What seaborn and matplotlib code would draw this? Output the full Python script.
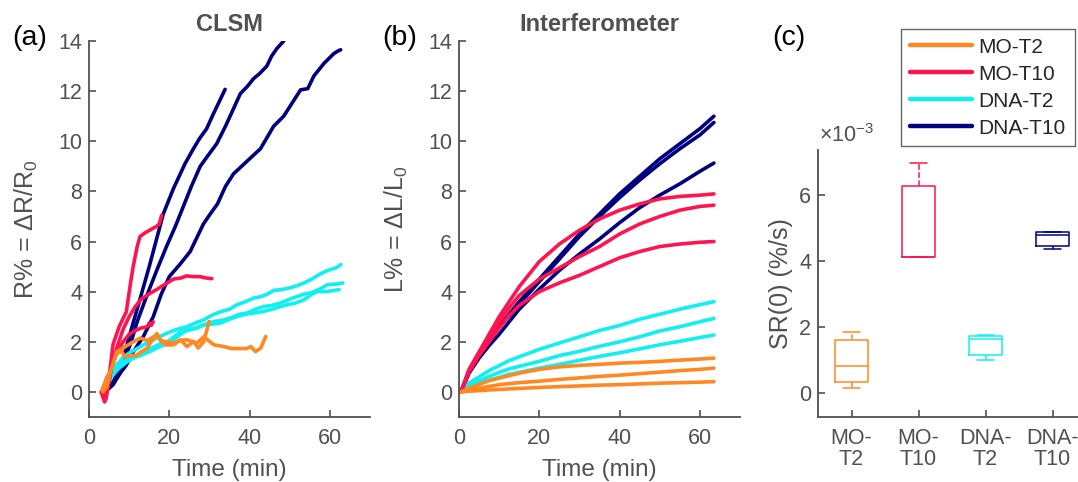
import matplotlib
matplotlib.use('Agg')
import matplotlib.pyplot as plt
from matplotlib.lines import Line2D
import seaborn as sns
import pandas as pd

# groups / colours
groups = ['MO-T2', 'MO-T10', 'DNA-T2', 'DNA-T10']
colors = {'MO-T2': '#FF8822', 'MO-T10': '#FF1450',
          'DNA-T2': '#10F0F0', 'DNA-T10': '#00007F'}
draw_order = ['DNA-T10', 'DNA-T2', 'MO-T10', 'MO-T2']

# ---- (a) CLSM: time (min) vs R% ----
clsm_mo_t2_a_t = [3.2, 4.5, 5.7, 6.9, 8.5, 10.5, 12.8, 14.5, 16.9, 17.8, 19.0, 21.0, 22.5,
                  24.4, 26.9, 28.6, 31.1, 33.6, 35.5, 37.7, 39.3, 40.3, 41.5, 42.8, 44.0]
clsm_mo_t2_a_r = [0.07, 0.6, 0.95, 1.6, 1.75, 1.95, 2.15, 2.05, 2.28, 2.07, 2.0, 1.95, 2.05,
                  2.08, 1.95, 2.2, 1.88, 1.81, 1.73, 1.73, 1.73, 1.81, 1.61, 1.75, 2.21]
clsm_mo_t2_b_t = [3.5, 4.4, 5.5, 6.5, 7.8, 9.0, 10.5, 11.9, 13.0, 14.4, 15.5, 16.9, 18.0,
                  19.4, 21.1, 22.8, 24.4, 26.1, 27.2, 28.6, 29.9]
clsm_mo_t2_b_r = [0.0, 0.2, 0.9, 1.4, 1.67, 1.4, 1.45, 1.47, 1.6, 1.73, 2.0, 2.33, 2.0,
                  1.87, 1.88, 2.08, 1.81, 2.01, 1.75, 2.01, 2.81]

clsm_mo_t10_a_t = [3.0, 3.9, 5.0, 6.0, 7.5, 9.3, 10.3, 11.0, 12.0, 12.7, 14.0, 15.6, 16.8, 17.5, 18.1]
clsm_mo_t10_a_r = [0.0, -0.4, 0.6, 1.9, 2.6, 3.2, 4.3, 5.0, 5.8, 6.2, 6.35, 6.5, 6.6, 6.7, 7.05]
clsm_mo_t10_b_t = [3.2, 4.0, 5.5, 7.0, 8.5, 10.0, 11.5, 13.0, 15.2, 17.0, 19.0, 21.0, 23.0,
                   24.3, 26.0, 27.7, 29.0, 30.6]
clsm_mo_t10_b_r = [0.0, -0.35, 0.9, 1.8, 2.5, 3.0, 3.4, 3.7, 3.93, 4.1, 4.3, 4.5, 4.55,
                   4.63, 4.6, 4.6, 4.55, 4.52]
clsm_mo_t10_c_t = [3.5, 4.2, 5.5, 7.0, 8.5, 10.0, 11.5, 13.0, 14.5, 15.0, 15.5, 16.0]
clsm_mo_t10_c_r = [0.0, -0.3, 0.9, 1.6, 2.0, 2.3, 2.45, 2.55, 2.6, 2.75, 2.65, 2.8]

clsm_dna_t2_a_t = [3.8, 4.4, 6.0, 8.6, 10.5, 12.75, 15.0, 17.5, 20.25, 22.0, 24.4, 26.5, 28.6,
                   30.5, 32.75, 35.0, 36.9, 39.0, 41.1, 42.8, 44.4, 46.0, 47.8, 50.0, 52.0,
                   53.6, 55.5, 57.5, 59.5, 61.5, 62.75]
clsm_dna_t2_a_r = [0.1, 0.6, 0.9, 1.4, 1.6, 1.8, 2.0, 2.2, 2.4, 2.5, 2.6, 2.75, 2.88,
                   3.05, 3.2, 3.3, 3.48, 3.6, 3.75, 3.8, 3.9, 4.05, 4.08, 4.15, 4.25,
                   4.35, 4.5, 4.7, 4.85, 4.95, 5.08]
clsm_dna_t2_b_t = [4.0, 5.0, 6.9, 9.0, 11.0, 12.75, 15.0, 17.5, 20.0, 22.75, 24.5, 26.9, 29.0,
                   31.1, 33.0, 35.25, 37.5, 39.4, 41.5, 43.6, 45.5, 47.75, 50.0, 51.9, 53.5,
                   55.25, 57.5, 59.4, 61.5, 63.2]
clsm_dna_t2_b_r = [0.0, 0.5, 1.0, 1.25, 1.4, 1.5, 1.7, 1.9, 2.05, 2.4, 2.45, 2.55, 2.7,
                   2.81, 2.85, 2.95, 3.1, 3.15, 3.3, 3.41, 3.45, 3.55, 3.7, 3.81, 3.9,
                   3.95, 4.1, 4.28, 4.3, 4.35]
clsm_dna_t2_c_t = [4.2, 5.5, 7.5, 9.5, 11.0, 12.75, 15.0, 17.5, 20.0, 22.0, 24.4, 26.5, 28.6,
                   30.5, 32.75, 35.0, 36.9, 39.0, 41.1, 43.0, 45.25, 47.5, 49.4, 51.5, 53.6,
                   55.5, 57.0, 59.0, 61.0, 62.3]
clsm_dna_t2_c_r = [0.1, 0.6, 0.95, 1.2, 1.35, 1.45, 1.6, 1.8, 1.95, 2.2, 2.48, 2.55, 2.68,
                   2.7, 2.75, 2.9, 3.01, 3.1, 3.15, 3.2, 3.28, 3.4, 3.48, 3.55, 3.68,
                   3.9, 4.01, 4.0, 4.05, 4.08]

clsm_dna_t10_a_t = [4.0, 6.0, 8.0, 10.0, 12.7, 15.0, 18.5, 21.0, 23.9, 26.0, 27.5, 29.3, 31.0, 32.5, 33.9]
clsm_dna_t10_a_r = [0.0, 0.4, 1.0, 2.2, 3.7, 5.0, 7.1, 8.1, 9.1, 9.7, 10.1, 10.5, 11.1, 11.6, 12.07]
clsm_dna_t10_b_t = [4.0, 6.0, 8.0, 10.5, 12.0, 14.3, 17.0, 19.3, 21.5, 23.5, 25.5, 27.7, 29.5,
                    31.8, 34.0, 36.0, 37.7, 39.5, 41.0, 42.5, 44.3, 45.5, 46.8, 48.5]
clsm_dna_t10_b_r = [0.0, 0.3, 0.9, 2.0, 2.8, 3.8, 4.9, 5.8, 6.6, 7.4, 8.2, 9.0, 9.4,
                    9.9, 10.6, 11.3, 11.9, 12.2, 12.5, 12.7, 13.0, 13.4, 13.7, 14.0]
clsm_dna_t10_c_t = [4.0, 6.0, 8.0, 9.3, 11.0, 13.5, 16.0, 18.0, 20.0, 22.7, 25.2, 27.0, 28.5,
                    30.2, 32.0, 34.0, 36.0, 38.0, 40.0, 42.7, 46.0, 48.5, 50.5, 52.7, 54.5,
                    56.0, 58.5, 61.0, 62.0, 62.7]
clsm_dna_t10_c_r = [0.0, 0.3, 0.8, 1.07, 1.6, 2.2, 3.0, 3.9, 4.6, 5.1, 5.6, 6.2, 6.7,
                    7.1, 7.5, 8.2, 8.7, 9.0, 9.3, 9.7, 10.6, 11.0, 11.5, 12.05, 12.1,
                    12.6, 13.1, 13.5, 13.6, 13.65]

# ---- (b) Interferometer: time (min) vs L% ----
interf_t = [0.5, 2.5, 5, 7.5, 10, 12.5, 15, 20, 25, 30, 35, 40, 45, 50, 55, 60, 63.5]
interf_mo_t2_a = [0, 0.15, 0.3, 0.45, 0.55, 0.65, 0.75, 0.9, 1.0, 1.06, 1.1, 1.15, 1.18, 1.22, 1.27, 1.31, 1.35]
interf_mo_t2_b = [0, 0.08, 0.15, 0.22, 0.29, 0.33, 0.37, 0.43, 0.5, 0.56, 0.62, 0.67, 0.73, 0.79, 0.85, 0.9, 0.95]
interf_mo_t2_c = [0, 0.03, 0.05, 0.08, 0.1, 0.12, 0.14, 0.18, 0.21, 0.24, 0.27, 0.29, 0.32, 0.35, 0.37, 0.39, 0.41]
interf_mo_t10_a = [0, 0.9, 1.6, 2.3, 3.0, 3.6, 4.2, 5.2, 5.9, 6.45, 6.9, 7.25, 7.5, 7.7, 7.8, 7.85, 7.9]
interf_mo_t10_b = [0, 0.85, 1.55, 2.2, 2.8, 3.35, 3.85, 4.5, 4.95, 5.4, 5.8, 6.3, 6.7, 7.0, 7.25, 7.4, 7.45]
interf_mo_t10_c = [0, 0.8, 1.45, 2.0, 2.55, 3.05, 3.45, 4.0, 4.35, 4.65, 5.0, 5.35, 5.6, 5.8, 5.9, 5.97, 6.0]
interf_dna_t2_a = [0, 0.35, 0.6, 0.85, 1.05, 1.25, 1.4, 1.7, 1.95, 2.2, 2.45, 2.65, 2.9, 3.1, 3.3, 3.48, 3.6]
interf_dna_t2_b = [0, 0.25, 0.45, 0.62, 0.78, 0.92, 1.02, 1.22, 1.45, 1.62, 1.82, 2.0, 2.2, 2.43, 2.6, 2.8, 2.93]
interf_dna_t2_c = [0, 0.2, 0.35, 0.47, 0.58, 0.7, 0.78, 0.95, 1.1, 1.26, 1.42, 1.56, 1.72, 1.88, 2.02, 2.17, 2.27]
interf_dna_t10_a = [0, 0.8, 1.45, 2.05, 2.6, 3.1, 3.6, 4.5, 5.4, 6.3, 7.1, 7.9, 8.6, 9.3, 9.9, 10.5, 11.0]
interf_dna_t10_b = [0, 0.85, 1.5, 2.1, 2.6, 3.05, 3.5, 4.4, 5.3, 6.2, 7.0, 7.75, 8.45, 9.1, 9.7, 10.25, 10.75]
interf_dna_t10_c = [0, 0.75, 1.35, 1.85, 2.3, 2.8, 3.3, 4.1, 4.85, 5.5, 6.1, 6.75, 7.35, 7.85, 8.3, 8.8, 9.13]

# ---- (c) SR(0) in units of 1e-3 %/s (whisker low, Q1, median, Q3, whisker high) ----
sr0_mo_t2 = [0.15, 0.32, 0.82, 1.59, 1.84]
sr0_mo_t10 = [4.13, 4.13, 4.13, 6.27, 6.98]
sr0_dna_t2 = [1.01, 1.16, 1.63, 1.71, 1.76]
sr0_dna_t10 = [4.35, 4.46, 4.79, 4.87, 4.89]
box_labels = ['MO-\nT2', 'MO-\nT10', 'DNA-\nT2', 'DNA-\nT10']


def long_frame(curves):
    rows = []
    for i, (g, t, v) in enumerate(curves):
        for ti, vi in zip(t, v):
            rows.append((g, i, ti, vi))
    return pd.DataFrame(rows, columns=['group', 'curve', 'time', 'value'])


df_a = long_frame([
    ('MO-T2', clsm_mo_t2_a_t, clsm_mo_t2_a_r), ('MO-T2', clsm_mo_t2_b_t, clsm_mo_t2_b_r),
    ('MO-T10', clsm_mo_t10_a_t, clsm_mo_t10_a_r), ('MO-T10', clsm_mo_t10_b_t, clsm_mo_t10_b_r),
    ('MO-T10', clsm_mo_t10_c_t, clsm_mo_t10_c_r),
    ('DNA-T2', clsm_dna_t2_a_t, clsm_dna_t2_a_r), ('DNA-T2', clsm_dna_t2_b_t, clsm_dna_t2_b_r),
    ('DNA-T2', clsm_dna_t2_c_t, clsm_dna_t2_c_r),
    ('DNA-T10', clsm_dna_t10_a_t, clsm_dna_t10_a_r), ('DNA-T10', clsm_dna_t10_b_t, clsm_dna_t10_b_r),
    ('DNA-T10', clsm_dna_t10_c_t, clsm_dna_t10_c_r),
])
df_b = long_frame([
    ('MO-T2', interf_t, interf_mo_t2_a), ('MO-T2', interf_t, interf_mo_t2_b), ('MO-T2', interf_t, interf_mo_t2_c),
    ('MO-T10', interf_t, interf_mo_t10_a), ('MO-T10', interf_t, interf_mo_t10_b), ('MO-T10', interf_t, interf_mo_t10_c),
    ('DNA-T2', interf_t, interf_dna_t2_a), ('DNA-T2', interf_t, interf_dna_t2_b), ('DNA-T2', interf_t, interf_dna_t2_c),
    ('DNA-T10', interf_t, interf_dna_t10_a), ('DNA-T10', interf_t, interf_dna_t10_b), ('DNA-T10', interf_t, interf_dna_t10_c),
])
df_c = pd.DataFrame(
    [(g, v) for g, vals in zip(groups, [sr0_mo_t2, sr0_mo_t10, sr0_dna_t2, sr0_dna_t10]) for v in vals],
    columns=['group', 'sr0'])

sns.set_theme(style='white')
plt.rcParams['font.family'] = ['Liberation Sans', 'DejaVu Sans']
plt.rcParams['mathtext.fontset'] = 'custom'
plt.rcParams['mathtext.rm'] = 'Liberation Sans'
plt.rcParams['mathtext.it'] = 'Liberation Sans:italic'

grey = '#505050'
W, H = 1078, 482
fig = plt.figure(figsize=(W / 100, H / 100), dpi=100)
ax_a = fig.add_axes([89 / W, 1 - 417 / H, 281 / W, 376 / H])
ax_b = fig.add_axes([459 / W, 1 - 417 / H, 281 / W, 376 / H])
ax_c = fig.add_axes([818 / W, 1 - 417 / H, 268 / W, 267 / H])


def style(ax):
    sns.despine(ax=ax)
    for s in ['left', 'bottom']:
        ax.spines[s].set_color(grey)
        ax.spines[s].set_linewidth(1.3)
    ax.tick_params(direction='in', length=5, width=1.2, colors=grey, labelsize=15.5,
                   bottom=True, left=True)
    ax.tick_params(axis='x', pad=8)
    ax.tick_params(axis='y', pad=5)


for ax, df, title, ylab in [(ax_a, df_a, 'CLSM', 'R% = ΔR/$\\mathregular{R_0}$'),
                            (ax_b, df_b, 'Interferometer', 'L% = ΔL/$\\mathregular{L_0}$')]:
    sns.lineplot(data=df, x='time', y='value', hue='group', units='curve', estimator=None,
                 hue_order=draw_order, palette=colors, sort=False, lw=2.6, legend=False, ax=ax)
    ax.set_xlim(0, 70)
    ax.set_ylim(-1, 14)
    ax.set_xticks([0, 20, 40, 60])
    ax.set_yticks(range(0, 15, 2))
    style(ax)
    ax.set_title(title, fontsize=17, fontweight='bold', color=grey, pad=7)
    ax.set_xlabel('Time (min)', fontsize=17.5, color=grey)
    ax.set_ylabel(ylab, fontsize=18, color=grey)
    ax.xaxis.set_label_coords(0.5, -0.112)
    ax.yaxis.set_label_coords(-0.175, 0.5)

sns.boxplot(data=df_c, x='group', y='sr0', hue='group', order=groups, hue_order=groups,
            palette=colors, fill=False, width=0.5, linewidth=1.1, whis=(0, 100),
            whiskerprops={'linestyle': '--'}, legend=False, ax=ax_c)
ax_c.set_xlim(-0.5, 3.5)
ax_c.set_ylim(-0.73, 7.36)
ax_c.set_yticks([0, 2, 4, 6])
ax_c.set_xticks(range(4))
ax_c.set_xticklabels(box_labels, linespacing=1.0)
style(ax_c)
ax_c.set_xlabel('')
ax_c.set_ylabel('SR(0) (%/s)', fontsize=18, color=grey)
ax_c.yaxis.set_label_coords(-0.095, 0.5)
ax_c.text(0.005, 1.01, '×10$^{\\mathregular{-3}}$', transform=ax_c.transAxes,
          fontsize=15.5, color=grey, ha='left', va='bottom')

# panel letters
for x, lab in [(12, '(a)'), (382, '(b)'), (772, '(c)')]:
    fig.text(x / W, 1 - 38 / H, lab, fontsize=20.5, color='black', ha='left', va='center')

handles = [Line2D([], [], color=colors[g], lw=3.2) for g in groups]
leg = fig.legend(handles, groups, loc='upper left', bbox_to_anchor=(901 / W, 1 - 29 / H),
                 fontsize=15, frameon=True, fancybox=False, edgecolor='#404040',
                 handlelength=3.0, labelspacing=0.38, borderpad=0.42, handletextpad=0.3,
                 borderaxespad=0)
leg.get_frame().set_linewidth(1.0)

fig.savefig('out.png', dpi=100)
